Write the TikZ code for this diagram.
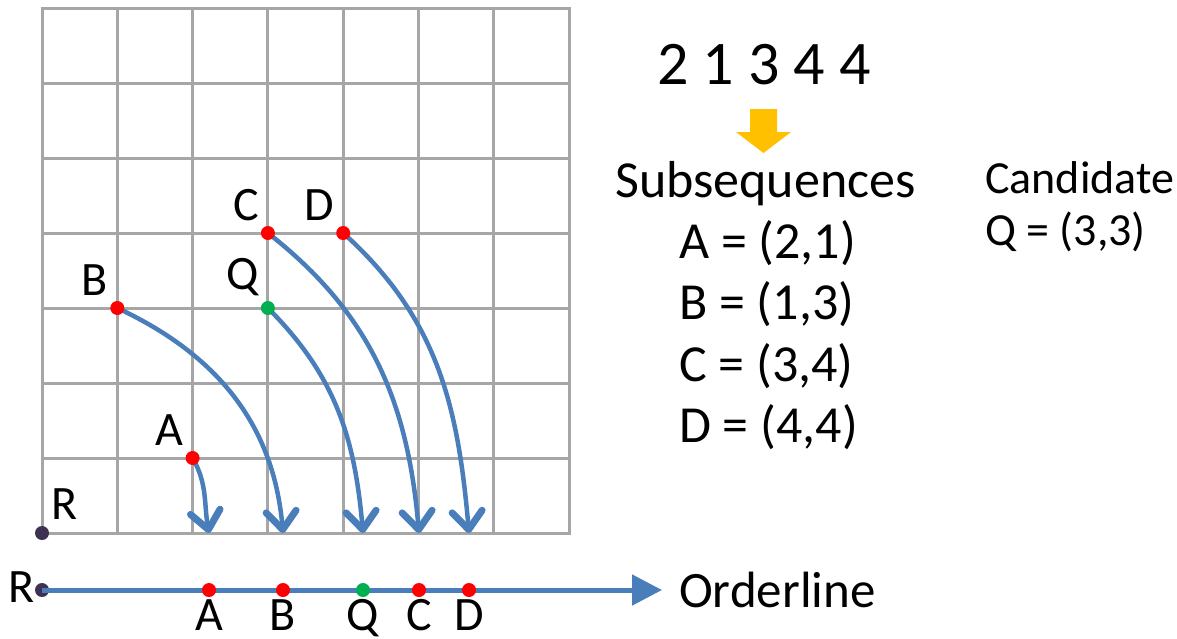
\documentclass[tikz,border=0pt]{standalone}
\usepackage{fontspec}
\setmainfont{Carlito}
\usetikzlibrary{positioning, arrows.meta, calc}
\definecolor{gridgray}{HTML}{A6A6A6}
\definecolor{curveblue}{HTML}{4A7EBB}
\definecolor{dotred}{HTML}{FF0000}
\definecolor{dotgreen}{HTML}{00B050}
\definecolor{rootdark}{HTML}{3F3151}
\definecolor{hintyellow}{HTML}{FFC000}

\begin{document}
\begin{tikzpicture}[
    x=1pt, y=-1pt,
    gridline/.style={draw=gridgray, line width=3pt, line cap=rect},
    ptdot/.style={circle, fill=#1, inner sep=0pt, minimum size=14pt},
    ptdot/.default=dotred,
    mapping/.style={
        draw=curveblue, line width=4.5pt,
        -{Straight Barb[length=18pt, width=30pt, line width=7pt, round]}
    },
    ordline/.style={draw=curveblue, line width=5pt, -{Triangle[length=30pt, width=30pt]}},
    ptlabel/.style={font=\fontsize{48}{52}\selectfont, inner sep=0pt},
    seqtext/.style={font=\fontsize{62}{66}\selectfont, inner sep=0pt},
    listtext/.style={font=\fontsize{52}{58}\selectfont, inner sep=0pt},
    candtext/.style={font=\fontsize{46}{50}\selectfont, inner sep=0pt}
]
\useasboundingbox (0,0) rectangle (1177,638);

% grid, origin at R
\begin{scope}[shift={(42,533)}, x=75.3pt, y=75pt]
    \foreach \i in {0,...,7} {
        \draw[gridline] (\i,0) -- (\i,7);
        \draw[gridline] (0,\i) -- (7,\i);
    }
    \coordinate (R) at (0,0);
    \coordinate (pA) at (2,1);
    \coordinate (pB) at (1,3);
    \coordinate (pC) at (3,4);
    \coordinate (pD) at (4,4);
    \coordinate (pQ) at (3,3);
\end{scope}

% orderline
\node[ptdot=rootdark] (oR) at (42,590) {};
\coordinate (oEnd) at (662,590);
\draw[ordline] (oR.center) -- (oEnd);
\node[ptlabel, anchor=west] (lRo) at (8,587) {R};
\node[candtext, font=\fontsize{51}{56}\selectfont, anchor=base west] (order) at (679,607) {Orderline};

\foreach \n/\xx/\c in {A/209/dotred, B/283/dotred, Q/363/dotgreen, C/419/dotred, D/469/dotred} {
    \node[ptdot=\c] (o\n) at (\xx,590) {};
    \node[ptlabel, below=2pt of o\n] (lo\n) {\n};
    \coordinate (t\n) at (o\n |- R);
}

% mapping curves
\draw[mapping] (pA) to[out=-60, in=100] (tA);
\draw[mapping] (pB) to[out=-25, in=95] (tB);
\draw[mapping] (pQ) to[out=-45, in=95] (tQ);
\draw[mapping] (pC) to[out=-38, in=95] (tC);
\draw[mapping] (pD) to[out=-42, in=95] (tD);

% points in the grid
\node[ptdot=rootdark] (gR) at (R) {};
\foreach \n/\c in {A/dotred, B/dotred, C/dotred, D/dotred, Q/dotgreen} {
    \node[ptdot=\c] (g\n) at (p\n) {};
    \node[ptlabel, above left=7pt and 4pt of g\n, anchor=south east] (lg\n) {\n};
}
\node[ptlabel, above right=8pt and 4pt of gR, anchor=south west] (lgR) {R};

% sequence and subsequences
\node[seqtext, anchor=base] (seq) at (764,84) {2 1 3 4 4};
\fill[hintyellow] (750,109) -- (777,109) -- (777,132) -- (791,132) -- (763.5,153)
    -- (736,132) -- (750,132) -- cycle;
\node[listtext, anchor=base west] (subs) at (615,197) {Subsequences};
\foreach \n/\v [count=\k from 0] in {A/{(2,1)}, B/{(1,3)}, C/{(3,4)}, D/{(4,4)}} {
    \node[listtext, anchor=base west] (s\n) at (679,258+61.5*\k) {{\n} = \v};
}

% candidate
\node[candtext, anchor=base west] (cand) at (985,193) {Candidate};
\node[candtext, anchor=base west] (candQ) at (985,245) {Q = (3,3)};

\end{tikzpicture}
\end{document}
